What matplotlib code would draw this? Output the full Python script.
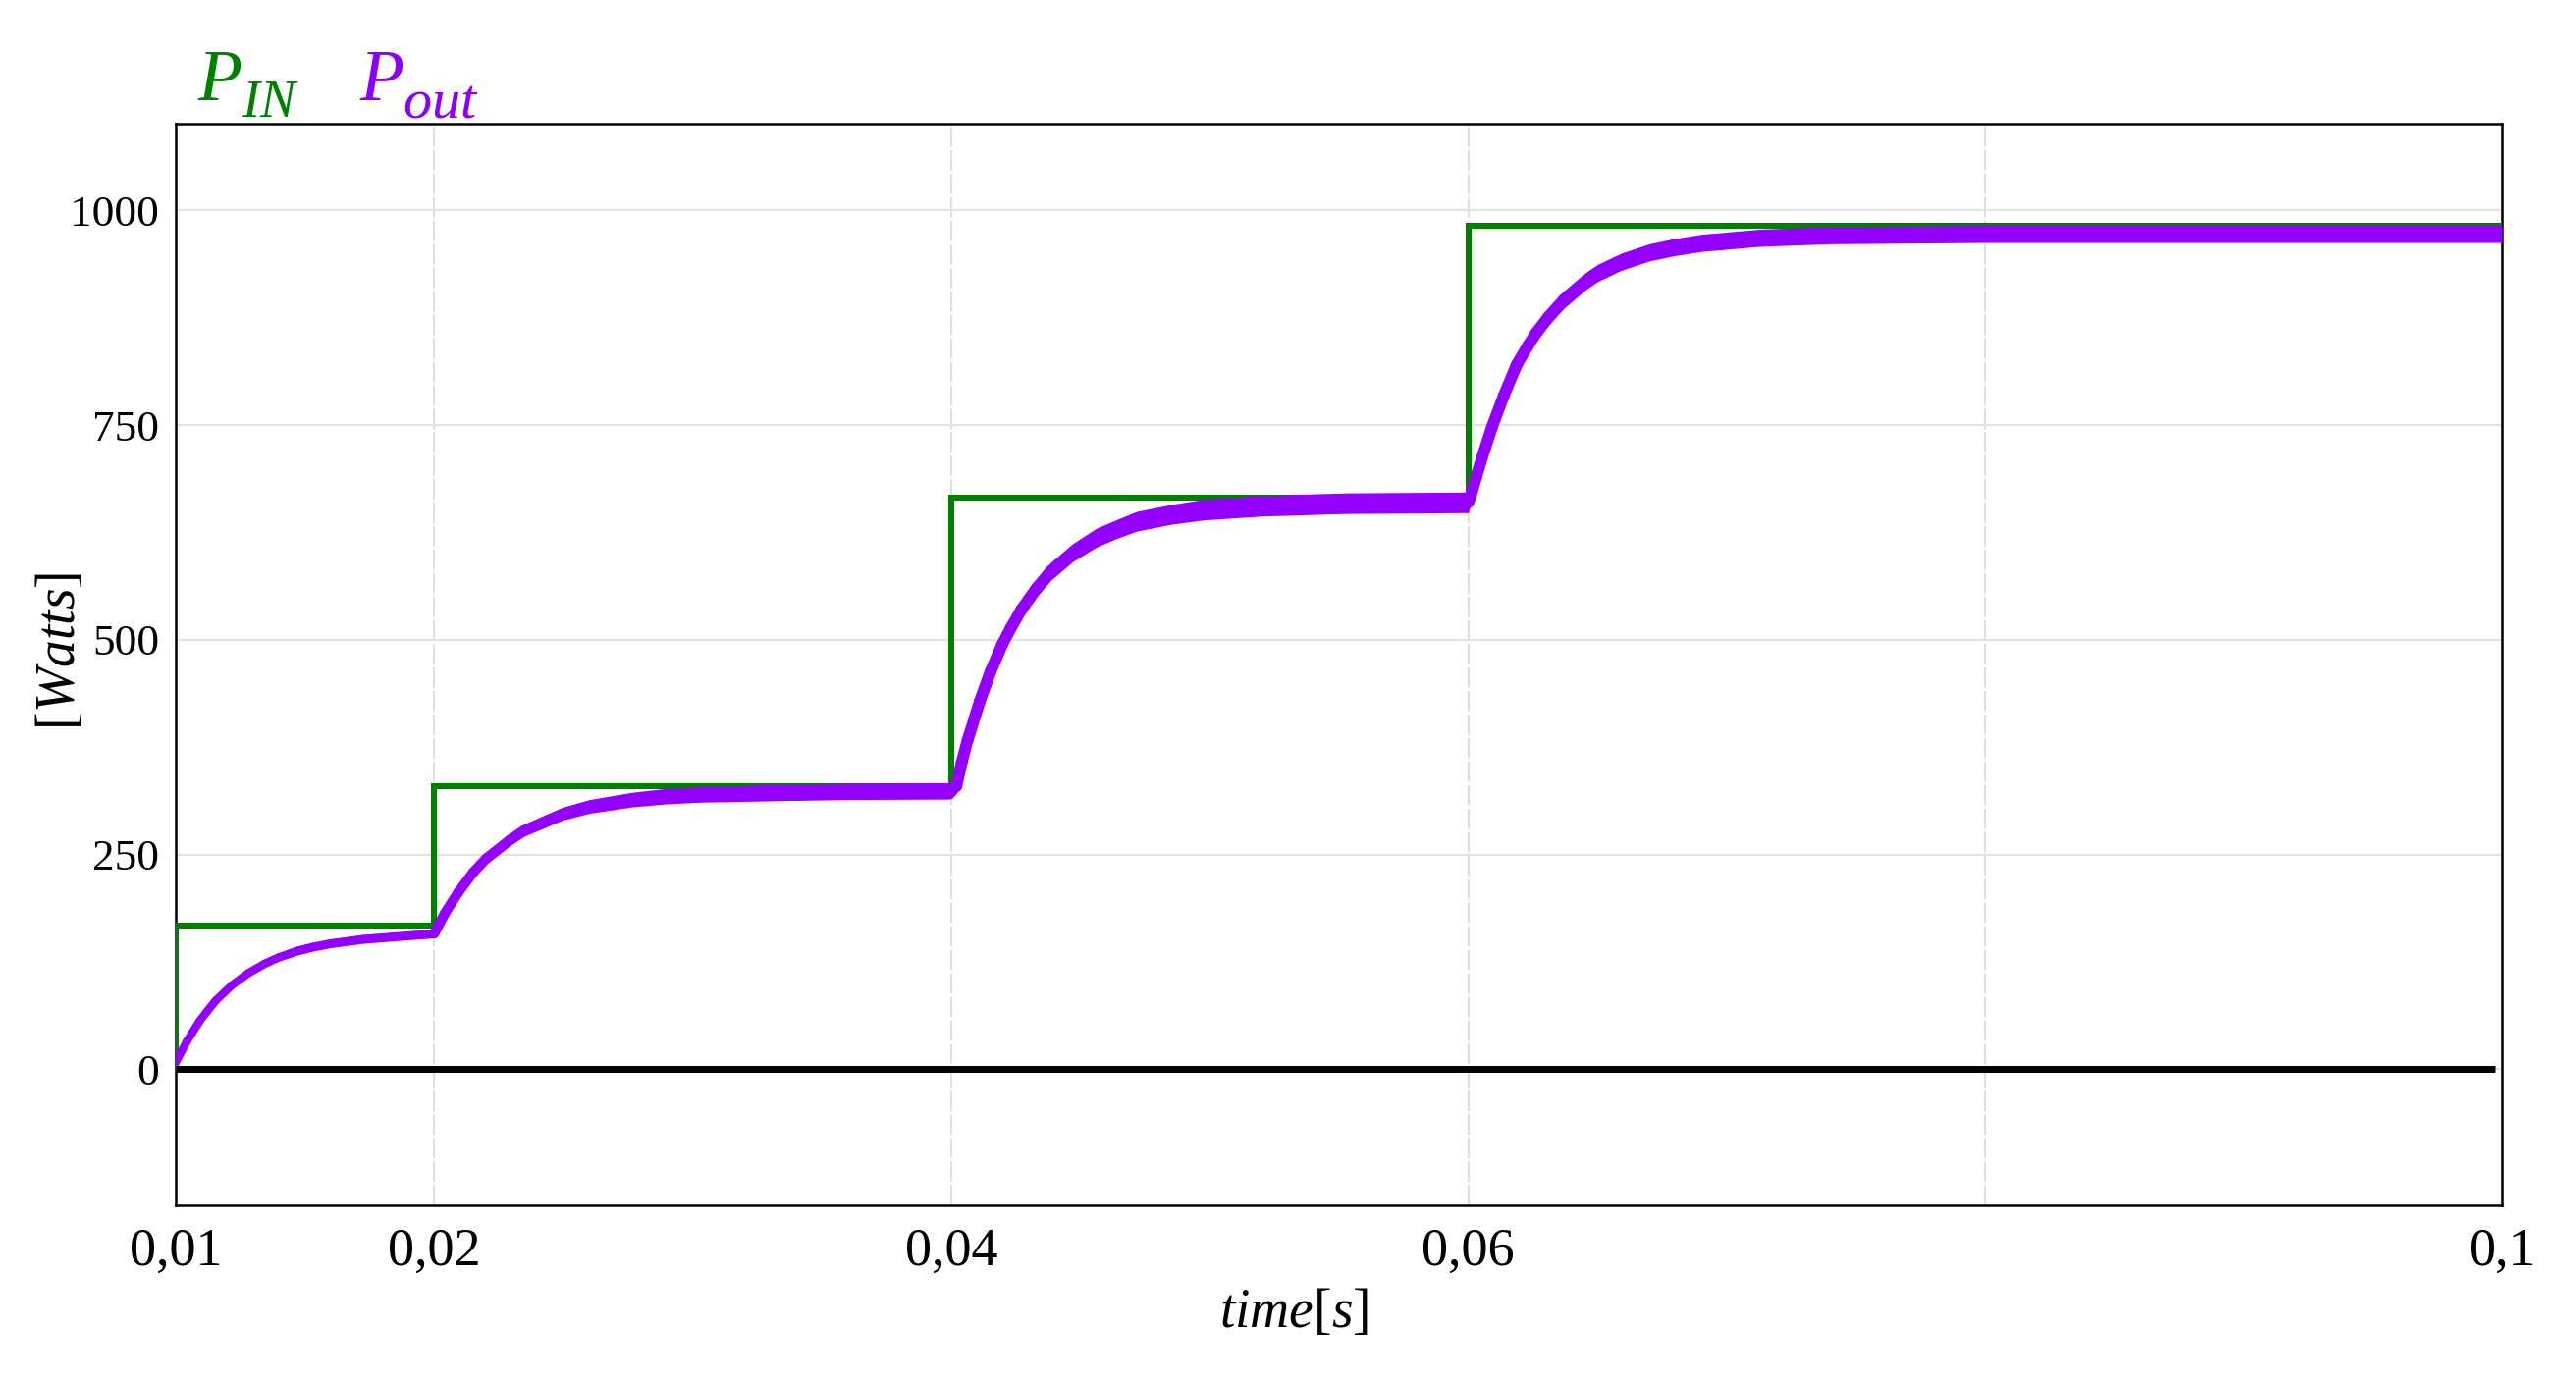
import matplotlib
matplotlib.use("Agg")
import matplotlib.pyplot as plt
from matplotlib.collections import LineCollection
import numpy as np

# ---------------- data ----------------
pin_t = [0.01, 0.01, 0.02, 0.04, 0.06, 0.1]
pin_w = [0.0, 167.5, 329.3, 665.8, 981.6, 981.6]

pout_t = [0.0100, 0.01042, 0.01092, 0.0112, 0.01155, 0.01218, 0.01281, 0.01345, 0.0140,
          0.01471, 0.0153, 0.01598, 0.01724, 0.0185, 0.0200,
          0.02042, 0.02093, 0.0215, 0.0220, 0.02292, 0.02346, 0.02496, 0.0260, 0.02767,
          0.0290, 0.03038, 0.03308, 0.0360, 0.03987, 0.0400,
          0.0402, 0.0404, 0.04063, 0.04111, 0.04152, 0.04196, 0.0423, 0.04271, 0.0433,
          0.04386, 0.0447, 0.04562, 0.0464, 0.04718, 0.0485, 0.04976, 0.0520, 0.05526,
          0.0600,
          0.0601, 0.06031, 0.06052, 0.06092, 0.06137, 0.06187, 0.0623, 0.06262, 0.0631,
          0.0637, 0.06456, 0.0650, 0.06591, 0.0670, 0.06795, 0.0690, 0.07127, 0.0740,
          0.0800, 0.1000]
pout_w = [8, 32, 56, 67, 80, 98, 112, 123, 130.5,
          138, 142.5, 146.5, 151.6, 154.6, 158,
          182, 206, 229, 245, 267, 278, 297.5, 306, 314,
          318, 320, 322, 323.5, 324, 324.5,
          330, 357, 383, 429, 463, 494, 513.5, 535, 560,
          580, 601.5, 619, 629, 638, 646, 651.5, 656, 659,
          660,
          668, 690, 711, 748, 784, 820, 842, 857, 876,
          896, 918, 927, 940, 951, 957, 962, 968, 971,
          972.5, 972.5]
# half thickness of the switching ripple band (W)
pout_ripple = [4, 4, 4, 4, 4, 4, 4.5, 4.5, 4.5,
               5, 5, 5, 5, 5, 5,
               5, 5.5, 6, 6.5, 7, 7, 7.5, 8, 8.5,
               9, 9, 9.5, 9.5, 9.5, 9.5,
               9, 9, 9, 9, 9, 9.5, 9.5, 10, 10,
               10.5, 10.5, 11, 11, 11.5, 11.5, 12, 12, 12,
               12,
               10, 10, 10, 10, 10, 10, 10, 10, 10,
               10, 10, 10, 10, 10, 10, 10, 10, 10,
               10, 10]

zero_t = [0.01, 0.0997]
zero_w = [0.0, 0.0]

xticks = [0.01, 0.02, 0.04, 0.06, 0.08, 0.1]
xtick_labels = ["0,01", "0,02", "0,04", "0,06", "", "0,1"]
yticks = [0, 250, 500, 750, 1000]
ytick_labels = ["0", "250", "500", "750", "1000"]

# ---------------- style ----------------
plt.rcParams['font.family'] = ['Liberation Serif', 'DejaVu Serif']
plt.rcParams['mathtext.fontset'] = 'custom'
plt.rcParams['mathtext.rm'] = 'Liberation Serif'
plt.rcParams['mathtext.it'] = 'Liberation Serif:italic'
plt.rcParams['mathtext.bf'] = 'Liberation Serif:bold'

GREEN = '#008000'
PURPLE = '#9400ff'
PURPLE_TXT = '#8a00ff'

fig = plt.figure(figsize=(13.12, 7.04), dpi=200)
ax = fig.add_axes([179/2624, 1 - 1228/1408, (2549-179)/2624, (1228-126)/1408])

ax.set_xlim(0.01, 0.1)
ax.set_ylim(-158.4, 1100.8)

# grid
ax.set_xticks(xticks)
ax.set_xticklabels(xtick_labels)
ax.set_yticks(yticks)
ax.set_yticklabels(ytick_labels)
ax.grid(axis='y', color='#e2e2e2', linewidth=0.75, zorder=0)
ax.grid(axis='x', color='#d6e6d2', linewidth=0.75, linestyle=(0, (10, 1.5)), zorder=0)

ax.tick_params(axis='both', length=0)
ax.tick_params(axis='x', labelsize=19.5, pad=8)
ax.tick_params(axis='y', labelsize=16.3, pad=6)
for s in ax.spines.values():
    s.set_linewidth(0.9)
    s.set_color('black')

# series
ax.step(pin_t, pin_w, where='post', color=GREEN, linewidth=2.2, zorder=3,
        solid_joinstyle='miter')
pt = np.array(pout_t)
pw = np.array(pout_w)
pr = np.array(pout_ripple)
ax.fill_between(pt, pw - pr, pw + pr, color=PURPLE, linewidth=0, zorder=4)
pts = np.column_stack([pt, pw])
segs = np.stack([pts[:-1], pts[1:]], axis=1)
widths = np.where(pt[:-1] < 0.02, 3.0, np.where(pt[:-1] < 0.04, 3.7, 4.3))
lc = LineCollection(segs, colors=PURPLE, linewidths=widths, capstyle='round',
                    joinstyle='round', zorder=4)
ax.add_collection(lc)
ax.plot(zero_t, zero_w, color='black', linewidth=2.5, zorder=5, solid_capstyle='butt')

# legend-like titles (main letter + lowered subscript)
base_y = 1 - 101.7/1408
sub_y = 1 - 119/1408
fig.text(201/2624, base_y, r'$P$', color=GREEN, fontsize=26.5, ha='left', va='baseline')
fig.text(246/2624, sub_y, r'$IN$', color=GREEN, fontsize=19.5, ha='left', va='baseline')
fig.text(366/2624, base_y, r'$P$', color=PURPLE_TXT, fontsize=26.5, ha='left', va='baseline')
fig.text(410/2624, sub_y, r'$out$', color=PURPLE_TXT, fontsize=21, ha='left', va='baseline')

# axis labels
fig.text(1318/2624, 1 - 1351.7/1408, r'$time[s]$', fontsize=20,
         ha='center', va='baseline')
fig.text(62/2624, 1 - 663/1408, r'$[Watts]$', fontsize=20, rotation=90,
         ha='center', va='center')

fig.savefig('out.png', dpi=200)
